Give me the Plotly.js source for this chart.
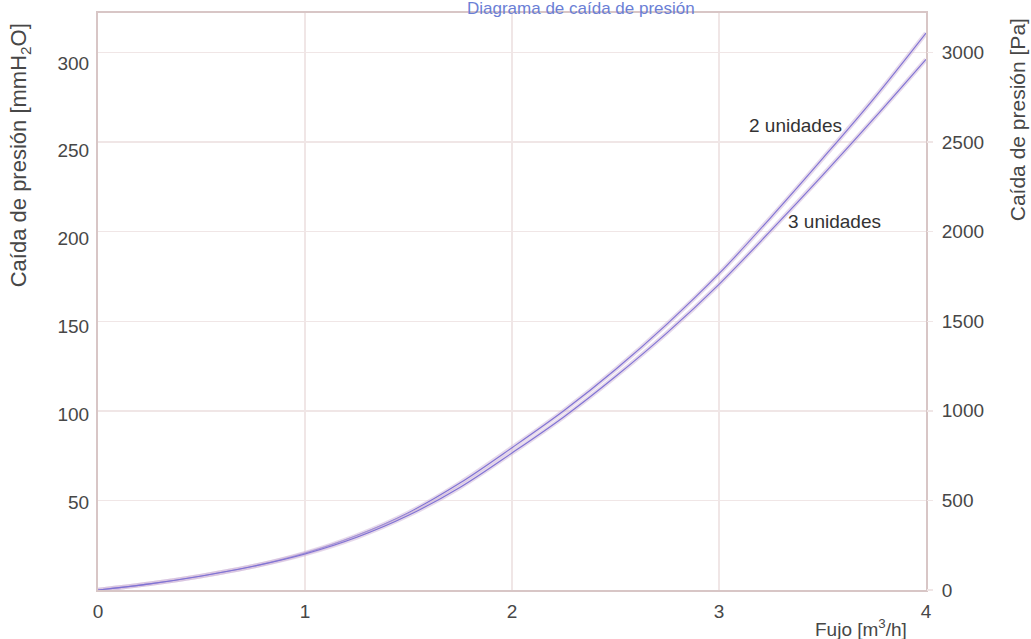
<!DOCTYPE html>
<html>
<head>
<meta charset="utf-8">
<script src="https://cdn.plot.ly/plotly-3.0.1.min.js"></script>
<style>html,body{margin:0;padding:0;background:#fff;}#chart{width:1031px;height:639px;}</style>
</head>
<body>
<div id="chart"></div>
<script>
// Flow [m3/h]
const flow = [0, 0.25, 0.5, 0.75, 1, 1.25, 1.5, 1.75, 2, 2.25, 2.5, 2.75, 3, 3.25, 3.5, 3.75, 4];
// Pressure drop [mmH2O]
const dp2Units = [0, 3.5, 8, 13.5, 21, 31, 44, 61, 81, 102, 125.5, 151.5, 180, 212, 245.5, 280, 317];
const dp3Units = [0, 3.5, 8, 13.5, 20.5, 30, 42.5, 58.5, 78, 98.5, 121.5, 146.5, 174, 204.5, 236, 268.5, 302];
const seriesNames = ["2 unidades", "3 unidades"];
const xTicks = [0, 1, 2, 3, 4];
const leftTicks = [50, 100, 150, 200, 250, 300];
const rightTicks = [0, 500, 1000, 1500, 2000, 2500, 3000];
const MMH2O_TO_PA = 9.80665;
const yMax = 328.4;

const font = "Liberation Sans, Arial, sans-serif";
const lineCol = "#7f72d4";
const glowCol = "rgba(205,180,215,0.5)";
const textCol = "#474747";

const traces = [];
[[dp2Units, seriesNames[0]], [dp3Units, seriesNames[1]]].forEach(([ys, name]) => {
  traces.push({x: flow, y: ys, type: "scatter", mode: "lines", name: name,
    line: {color: glowCol, width: 4.5, shape: "spline"}, hoverinfo: "skip", showlegend: false});
  traces.push({x: flow, y: ys, type: "scatter", mode: "lines", name: name,
    line: {color: lineCol, width: 1.1, shape: "spline"}, showlegend: false});
});
// invisible trace to activate right axis
traces.push({x: [0], y: [0], yaxis: "y2", type: "scatter", mode: "markers",
  marker: {opacity: 0}, showlegend: false, hoverinfo: "skip"});

const axisLine = "#d8c6c6";
const gridCol = "#f0e6e6";

const layout = {
  width: 1031, height: 639,
  margin: {l: 98, r: 105, t: 13, b: 49},
  paper_bgcolor: "#ffffff", plot_bgcolor: "#ffffff",
  showlegend: false,
  font: {family: font, size: 19, color: textCol},
  xaxis: {
    range: [0, 4], tickvals: xTicks, ticktext: xTicks.map(String),
    showgrid: true, gridcolor: gridCol, gridwidth: 1.5,
    zeroline: false, showline: true, linecolor: axisLine, linewidth: 2, mirror: true,
    ticks: "", ticklabelstandoff: 3,
    tickfont: {family: font, size: 19, color: textCol}
  },
  yaxis: {
    range: [0, yMax], tickvals: leftTicks, ticktext: leftTicks.map(String),
    showgrid: false, zeroline: false, showline: true, linecolor: axisLine, linewidth: 2, mirror: true,
    ticks: "", ticklabelstandoff: 3,
    tickfont: {family: font, size: 19, color: textCol}
  },
  yaxis2: {
    range: [0, yMax * MMH2O_TO_PA], overlaying: "y", side: "right",
    tickvals: rightTicks, ticktext: rightTicks.map(String),
    showgrid: true, gridcolor: gridCol, gridwidth: 1.5, zeroline: false,
    showline: false, ticks: "outside", ticklen: 6, tickcolor: gridCol, tickwidth: 1.5,
    ticklabelstandoff: 5,
    tickfont: {family: font, size: 19, color: textCol}
  },
  annotations: [
    {text: "Diagrama de caída de presión", xref: "paper", yref: "paper", x: 0.5836, y: 1.0,
     yshift: 5, xanchor: "center", yanchor: "middle", showarrow: false,
     font: {family: font, size: 17, color: "#6b7fd6"}},
    {text: "Caída de presión [mmH<sub>2</sub>O]", xref: "paper", yref: "paper", x: -0.0945, y: 0.753,
     xanchor: "center", yanchor: "middle", textangle: -90, showarrow: false,
     font: {family: font, size: 22, color: textCol}},
    {text: "Caída de presión [Pa]", xref: "paper", yref: "paper", x: 1.1105, y: 0.815,
     xanchor: "center", yanchor: "middle", textangle: -90, showarrow: false,
     font: {family: font, size: 21, color: textCol}},
    {text: "Fujo [m<sup>3</sup>/h]", xref: "paper", yref: "paper", x: 0.922, y: -0.066,
     xanchor: "center", yanchor: "middle", showarrow: false,
     font: {family: font, size: 19, color: textCol}},
    {text: seriesNames[0], x: 3.37, y: 264.5, xref: "x", yref: "y", showarrow: false,
     xanchor: "center", yanchor: "middle", font: {family: font, size: 19, color: "#333"}},
    {text: seriesNames[1], x: 3.56, y: 209.5, xref: "x", yref: "y", showarrow: false,
     xanchor: "center", yanchor: "middle", font: {family: font, size: 19, color: "#333"}}
  ]
};

Plotly.newPlot("chart", traces, layout, {displayModeBar: false, staticPlot: true});
</script>
</body>
</html>
